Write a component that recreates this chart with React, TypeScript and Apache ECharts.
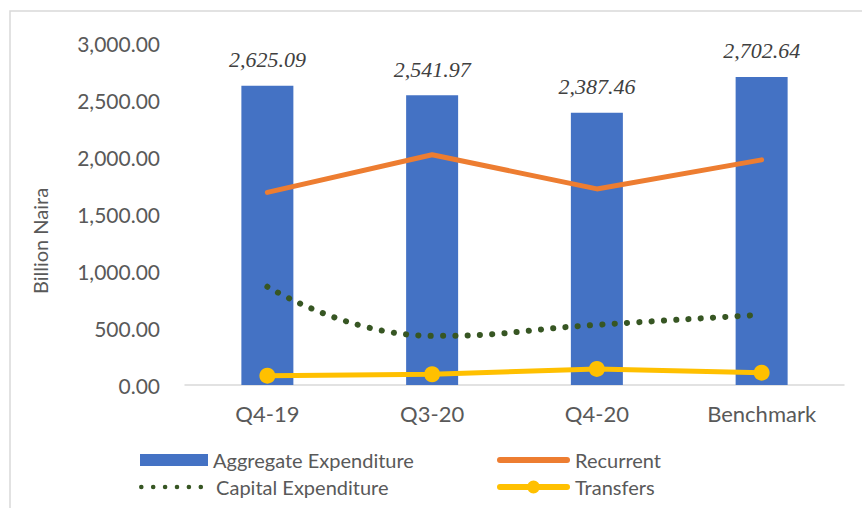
import React, { useEffect, useRef } from "react";
import * as echarts from "echarts";

const categories = ["Q4-19", "Q3-20", "Q4-20", "Benchmark"];
const aggregate = [2625.09, 2541.97, 2387.46, 2702.64];
const recurrent = [1690, 2020, 1720, 1975];
const capital = [862, 431, 528, 616];
const transfers = [82, 94, 141, 108];
const yTicks = { min: 0, max: 3000, interval: 500 };

const fmt = (v: number) =>
  new Intl.NumberFormat("en-US", { minimumFractionDigits: 2, maximumFractionDigits: 2 }).format(v);

const FONT = "Lato";
const legendText = { fontFamily: FONT, fontSize: 20, color: "#595959" };

const dotsPath = (() => {
  const r = 2.3;
  let d = "path://";
  for (let i = 0; i < 6; i++) {
    const cx = r + i * 11.9;
    d += `M${cx - r},${r}A${r},${r} 0 1 1 ${cx + r},${r}A${r},${r} 0 1 1 ${cx - r},${r}Z`;
  }
  return d;
})();
const roundLinePath = "path://M3,0H70A3,3 0 0 1 70,6H3A3,3 0 0 1 3,0Z";
const markerLinePath =
  "path://M3,3.5H70A3,3 0 0 1 70,9.5H3A3,3 0 0 1 3,3.5Z M30,6.5A6.5,6.5 0 1 1 43,6.5A6.5,6.5 0 1 1 30,6.5Z";

export default function App() {
  const ref = useRef<HTMLDivElement>(null);
  useEffect(() => {
    if (!ref.current) return;
    const chart = echarts.init(ref.current, null, { renderer: "svg" });
    const mkLegend = (
      name: string,
      icon: string,
      w: number,
      h: number,
      left: number,
      top: number,
      textPad = 0
    ) => ({
      data: [{ name, icon }],
      left,
      top,
      padding: 0,
      itemWidth: w,
      itemHeight: h,
      itemGap: 0,
      textStyle: { ...legendText, padding: [0, 0, 0, textPad] },
      selectedMode: false,
    });
    chart.setOption({
      animation: false,
      backgroundColor: "#ffffff",
      grid: { left: 185, right: 18, top: 43, bottom: 123, containLabel: false },
      graphic: [
        {
          type: "rect",
          shape: { x: 10, y: 11, width: 900, height: 520 },
          style: { fill: "none", stroke: "#d9d9d9", lineWidth: 1.5 },
          silent: true,
        },
        {
          type: "text",
          x: 40,
          y: 241,
          rotation: Math.PI / 2,
          style: {
            text: "Billion Naira",
            fontFamily: FONT,
            fontSize: 20,
            fill: "#595959",
            textAlign: "center",
            textVerticalAlign: "middle",
          },
        },
      ],
      legend: [
        mkLegend("Aggregate Expenditure", "rect", 68, 12, 140, 450),
        mkLegend("Recurrent", roundLinePath, 73, 6, 497, 450),
        mkLegend("Capital Expenditure", dotsPath, 64.1, 4.6, 139, 477, 8),
        mkLegend("Transfers", markerLinePath, 73, 13, 497, 477),
      ],
      xAxis: {
        type: "category",
        data: categories,
        axisLine: { lineStyle: { color: "#d9d9d9", width: 1.5 } },
        axisTick: { show: false },
        axisLabel: { fontFamily: FONT, fontSize: 22, color: "#595959", margin: 17 },
      },
      yAxis: {
        type: "value",
        min: yTicks.min,
        max: yTicks.max,
        interval: yTicks.interval,
        axisLine: { show: false },
        axisTick: { show: false },
        splitLine: { show: false },
        axisLabel: {
          fontFamily: FONT,
          fontSize: 21,
          color: "#595959",
          margin: 25,
          formatter: (v: number) => fmt(v),
        },
      },
      series: [
        {
          name: "Aggregate Expenditure",
          type: "bar",
          data: aggregate,
          barWidth: 52,
          itemStyle: { color: "#4472C4" },
          label: {
            show: true,
            position: "top",
            distance: 15,
            fontFamily: "Liberation Serif",
            fontStyle: "italic",
            fontSize: 22,
            color: "#404040",
            formatter: (p: any) => fmt(p.value),
          },
        },
        {
          name: "Recurrent",
          type: "line",
          data: recurrent,
          symbol: "none",
          lineStyle: { color: "#ED7D31", width: 5, cap: "round" },
          itemStyle: { color: "#ED7D31" },
        },
        {
          name: "Capital Expenditure",
          type: "line",
          data: capital,
          smooth: 0.5,
          symbol: "none",
          lineStyle: { color: "#375623", width: 6, type: [0.1, 12.2], cap: "round" },
          itemStyle: { color: "#375623" },
        },
        {
          name: "Transfers",
          type: "line",
          data: transfers,
          symbol: "circle",
          symbolSize: 16,
          lineStyle: { color: "#FFC000", width: 5, cap: "round" },
          itemStyle: { color: "#FFC000" },
        },
      ],
    });
    return () => chart.dispose();
  }, []);
  return (
    <div
      ref={ref}
      style={{ position: "fixed", left: 0, top: 0, width: 862, height: 508, background: "#fff" }}
    />
  );
}
